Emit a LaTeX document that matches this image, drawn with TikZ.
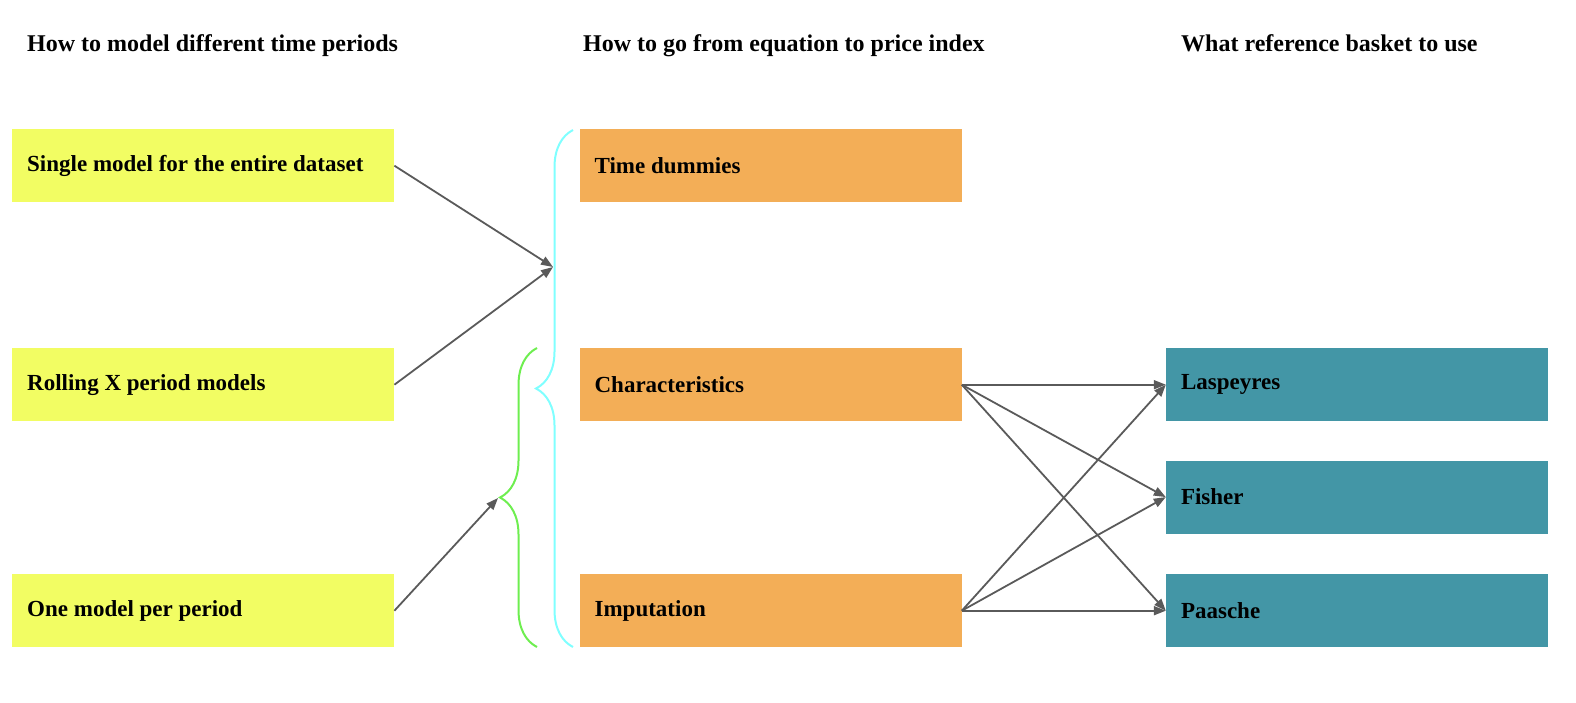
\documentclass[tikz,border=0pt]{standalone}
\usepackage{fontspec}
\setmainfont{Liberation Serif}
\usetikzlibrary{arrows.meta, positioning, decorations.pathreplacing}
\definecolor{modelyellow}{RGB}{242,253,99}
\definecolor{indexorange}{RGB}{243,174,87}
\definecolor{basketteal}{RGB}{67,150,166}
\definecolor{bracecyan}{RGB}{128,255,255}
\definecolor{bracegreen}{RGB}{110,238,80}
\definecolor{linkgrey}{RGB}{90,90,90}

\begin{document}
\begin{tikzpicture}[x=1pt, y=-1pt, node distance=185pt,
        box/.style={rectangle, minimum width=382pt, minimum height=73pt, text width=352pt, inner xsep=15pt, inner ysep=0pt, align=flush left, font=\bfseries\fontsize{23}{27}\selectfont, anchor=north west},
        heading/.style={anchor=base west, inner sep=0pt, font=\bfseries\fontsize{24}{28}\selectfont},
        link/.style={draw=linkgrey, line width=1.8pt, -{Triangle[length=12pt, width=9pt]}},
        bracepath/.style={decorate, decoration={brace, amplitude=37pt}, line width=2pt}]
        \useasboundingbox (0,0) rectangle (1576,702);
        \node[heading] (periodhead) at (27,51) {How to model different time periods};
        \node[heading] (indexhead) at (583,51) {How to go from equation to price index};
        \node[heading] (baskethead) at (1181,51) {What reference basket to use};
        \node[box, fill=modelyellow] (single) at (12,129) {Single model for the entire dataset};
        \node[box, fill=modelyellow] (rolling) at (12,348) {Rolling X period models};
        \node[box, fill=modelyellow] (permodel) at (12,574) {One model per period};
        \node[box, fill=indexorange, right=of single] (dummies) {Time dummies};
        \node[box, fill=indexorange, right=of rolling] (charac) {Characteristics};
        \node[box, fill=indexorange, right=of permodel] (imput) {Imputation};
        \node[box, fill=basketteal, right=204pt of charac] (lasp) {Laspeyres};
        \node[box, fill=basketteal, below=39pt of lasp] (fisher) {Fisher};
        \node[box, fill=basketteal, right=204pt of imput] (paasche) {Paasche};
        \draw[bracepath, draw=bracecyan] (573,647) -- (573,130);
        \draw[bracepath, draw=bracegreen] (537,647) -- (537,348);
        \coordinate (dummyin) at (553,267);
        \coordinate (imputin) at (498,498);
        \draw[link] (single.east) -- (dummyin);
        \draw[link] (rolling.east) -- (dummyin);
        \draw[link] (permodel.east) -- (imputin);
        \draw[link] (charac.east) -- (lasp.west);
        \draw[link] (charac.east) -- (fisher.west);
        \draw[link] (charac.east) -- (paasche.west);
        \draw[link] (imput.east) -- (lasp.west);
        \draw[link] (imput.east) -- (fisher.west);
        \draw[link] (imput.east) -- (paasche.west);
    \end{tikzpicture}
\end{document}
